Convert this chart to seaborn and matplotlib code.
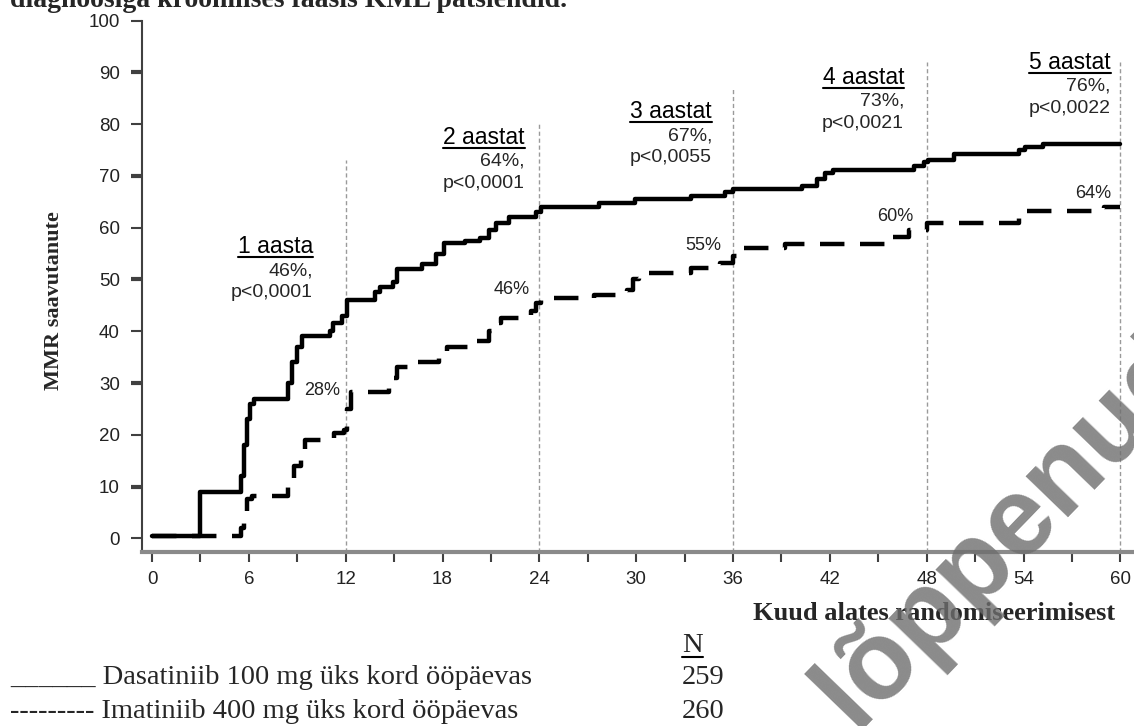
import numpy as np
import pandas as pd
import matplotlib
matplotlib.use("Agg")
import matplotlib.pyplot as plt
from matplotlib.lines import Line2D
import seaborn as sns

# Andmed (loetud jooniselt): kuud ja MMR saavutanute %
dasa_kuud = [0, 3.0, 5.5, 5.7, 5.9, 6.1, 6.3, 8.4, 8.7, 9.0, 9.3, 11.0, 11.2, 11.8,
             12.1, 13.8, 14.1, 14.9, 15.2, 16.7, 17.6, 18.1, 19.4, 20.3, 20.9, 21.3,
             22.1, 23.8, 24.1, 27.7, 29.9, 33.4, 35.5, 36.0, 40.3, 41.2, 41.7, 42.2,
             47.2, 47.8, 48.1, 49.7, 53.7, 54.1, 55.2, 60.0]
dasa_mmr = [0.5, 9, 12, 18, 23, 26, 27, 30, 34, 37, 39, 40, 41.5, 43,
            46, 47.5, 48.5, 49.5, 52, 53, 55, 57, 57.5, 58, 59.5, 61,
            62, 63, 64, 64.8, 65.5, 66.2, 67, 67.5, 68, 69.5, 70.5, 71.2,
            72, 72.7, 73, 74.2, 75, 75.6, 76.2, 76.2]

ima_kuud = [0, 5.5, 5.7, 5.9, 6.2, 8.4, 8.8, 9.2, 9.5, 11.3, 11.9, 12.1, 12.3, 14.7,
            14.9, 15.2, 16.5, 17.8, 18.3, 19.8, 20.9, 21.3, 21.6, 23.5, 23.8, 24.1,
            27.4, 29.4, 29.8, 30.2, 33.4, 35.2, 36.0, 36.4, 39.2, 45.7, 46.9, 48.0,
            53.7, 54.2, 59.0, 60.0]
ima_mmr = [0.5, 2, 5, 7.5, 8.2, 10, 14, 17, 19, 20.3, 21, 25, 28.3, 29.5,
           31, 33, 34, 35.5, 37, 38.2, 40, 41.5, 42.5, 44, 45.5, 46.4,
           47, 48, 50, 51.2, 52.2, 53.2, 54.5, 56, 56.8, 58.3, 59.6, 61,
           62, 63.3, 64.1, 64.1]

aastad = [12, 24, 36, 48, 60]
aasta_nimed = ["1 aasta", "2 aastat", "3 aastat", "4 aastat", "5 aastat"]
dasa_pct = ["46%,", "64%,", "67%,", "73%,", "76%,"]
p_vaartused = ["p<0,0001", "p<0,0001", "p<0,0055", "p<0,0021", "p<0,0022"]
ima_pct = ["28%", "46%", "55%", "60%", "64%"]
joone_ulad = [73.1, 80.3, 87.0, 92.0, 92.0]

# paigutus
pealkiri_x = [9.97, 23.1, 34.7, 46.6, 59.4]
pealkiri_y = [56.3, 77.5, 82.4, 89.1, 92.0]
ima_x = [11.65, 23.4, 35.3, 47.2, 59.4]
ima_y = [28.6, 48.1, 56.6, 62.1, 66.7]

df = pd.concat([
    pd.DataFrame({"kuud": dasa_kuud, "mmr": dasa_mmr, "ravim": "Dasatiniib"}),
    pd.DataFrame({"kuud": ima_kuud, "mmr": ima_mmr, "ravim": "Imatiniib"}),
])

sns.set_style("white")
plt.rcParams["font.family"] = ["Liberation Sans", "DejaVu Sans"]
SERIF = ["Liberation Serif", "DejaVu Serif"]

fig = plt.figure(figsize=(11.34, 7.26), dpi=100)
ax = fig.add_axes([142 / 1134, 174 / 726, 992 / 1134, 531.3 / 726])

# vertikaalsed abijooned
ax.vlines(aastad, -2.65, joone_ulad, colors="#9a9a9a", linewidth=1.0,
          linestyles=(0, (3, 2)), zorder=1)

sns.lineplot(data=df, x="kuud", y="mmr", hue="ravim", style="ravim",
             palette={"Dasatiniib": "black", "Imatiniib": "black"},
             dashes={"Dasatiniib": "", "Imatiniib": (5.5, 3.5)},
             drawstyle="steps-post", linewidth=3.2, estimator=None,
             legend=False, ax=ax, zorder=3)

ax.set_xlim(-0.62, 60.84)
ax.set_ylim(-2.65, 100)
ax.set_xlabel("")
ax.set_ylabel("")

ax.set_xticks(range(0, 61, 6))
ax.set_xticks(range(3, 61, 6), minor=True)
ax.set_yticks(range(0, 101, 10))
ax.tick_params(axis="x", which="both", bottom=True, length=7, width=1.5,
               color="#404040", pad=7, labelsize=13.5, labelcolor="#222222")
ax.tick_params(axis="y", left=True, length=8, width=1.5, color="#404040",
               pad=8, labelsize=13.5, labelcolor="#222222")
for i, t in enumerate(ax.yaxis.get_major_ticks()):
    if i % 2 == 1:
        t.tick1line.set_color("#9a9a9a")
        t.tick1line.set_markeredgewidth(3)

for s in ["top", "right"]:
    ax.spines[s].set_visible(False)
ax.spines["left"].set_color("#404040")
ax.spines["left"].set_linewidth(1.5)
ax.spines["bottom"].set_color("#8a8a8a")
ax.spines["bottom"].set_linewidth(3.0)

# tekstid aastate kohal
aasta_tekstid = []
for i in range(len(aastad)):
    t = ax.text(pealkiri_x[i], pealkiri_y[i], aasta_nimed[i], ha="right",
                va="center", fontsize=16.5, color="black")
    aasta_tekstid.append(t)
    ax.text(pealkiri_x[i], pealkiri_y[i] - 4.6, dasa_pct[i], ha="right",
            va="center", fontsize=14)
    ax.text(pealkiri_x[i], pealkiri_y[i] - 8.9, p_vaartused[i], ha="right",
            va="center", fontsize=14)
    ax.text(ima_x[i], ima_y[i], ima_pct[i], ha="right", va="center",
            fontsize=13, color="#222222")

fig.text(54 / 1134, 1 - 301 / 726, "MMR saavutanute", rotation=90,
         ha="center", va="center", fontsize=16, fontweight="bold", family=SERIF)
fig.text(1115 / 1134, 1 - 613 / 726, "Kuud alates randomiseerimisest",
         ha="right", va="center", fontsize=19, fontweight="bold", family=SERIF)

# pealkirja alumine osa (lõigatud)
fig.text(10 / 1134, 1 - 7 / 726, "diagnoosiga kroonilises faasis KML patsiendid.",
         ha="left", va="baseline", fontsize=20, fontweight="bold", family=SERIF)

# legend
fig.text(10 / 1134, 1 - 678 / 726, "______ Dasatiniib 100 mg üks kord ööpäevas",
         ha="left", va="center", fontsize=20.5, family=SERIF)
fig.text(10 / 1134, 1 - 712 / 726, "--------- Imatiniib 400 mg üks kord ööpäevas",
         ha="left", va="center", fontsize=20.5, family=SERIF)
n_txt = fig.text(682 / 1134, 1 - 645 / 726, "N", ha="left", va="center",
                 fontsize=20.5, family=SERIF)
fig.text(682 / 1134, 1 - 678 / 726, "259", ha="left", va="center",
         fontsize=20.5, family=SERIF)
fig.text(682 / 1134, 1 - 712 / 726, "260", ha="left", va="center",
         fontsize=20.5, family=SERIF)

# vesimärk
fig.text(1.044, 0.51, "Ravimil on müügiluba lõppenud", rotation=46,
         rotation_mode="anchor", ha="right", va="center", fontsize=80,
         fontweight="bold", color="#6e6e6e", alpha=0.8, zorder=10)

# allajoonimised
fig.canvas.draw()
r = fig.canvas.get_renderer()
for t in aasta_tekstid + [n_txt]:
    bb = t.get_window_extent(renderer=r)
    y = bb.y0 + 1
    fig.add_artist(Line2D([bb.x0 / 1134, bb.x1 / 1134], [y / 726, y / 726],
                          transform=fig.transFigure, color="black", lw=1.5))

fig.savefig("out.png", dpi=100)
